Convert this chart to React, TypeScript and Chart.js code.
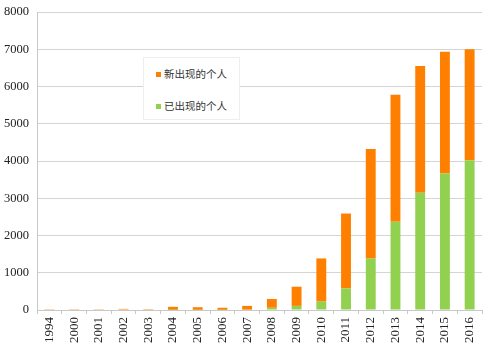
import React, { useEffect, useRef } from "react";
import { Chart, registerables } from "chart.js";

Chart.register(...registerables);

const categories = ["1994", "2000", "2001", "2002", "2003", "2004", "2005", "2006", "2007", "2008", "2009", "2010", "2011", "2012", "2013", "2014", "2015", "2016"];
const existingIndividuals = [0, 0, 0, 0, 0, 5, 5, 5, 10, 60, 110, 225, 580, 1385, 2370, 3145, 3665, 4020];
const newIndividuals = [5, 5, 5, 30, 25, 80, 70, 55, 100, 235, 515, 1160, 2010, 2935, 3410, 3405, 3265, 2980];
const seriesNames = ["新出现的个人", "已出现的个人"];
const yMax = 8000;
const yStep = 1000;

const ORANGE = "#FF8000";
const GREEN = "#92D050";
const SERIF = "'Liberation Serif', 'DejaVu Serif', serif";

export default function App() {
  const canvasRef = useRef<HTMLCanvasElement | null>(null);

  useEffect(() => {
    document.body.style.margin = "0";
    const canvas = canvasRef.current;
    if (!canvas) return;
    const chart = new Chart(canvas, {
      type: "bar",
      data: {
        labels: categories,
        datasets: [
          {
            label: seriesNames[1],
            data: existingIndividuals,
            backgroundColor: GREEN,
            borderWidth: 0,
            barPercentage: 0.4,
            categoryPercentage: 1,
          },
          {
            label: seriesNames[0],
            data: newIndividuals,
            backgroundColor: ORANGE,
            borderWidth: 0,
            barPercentage: 0.4,
            categoryPercentage: 1,
          },
        ],
      },
      options: {
        animation: false,
        responsive: false,
        maintainAspectRatio: false,
        layout: { padding: { top: 12, right: 17, left: 0, bottom: 0 } },
        plugins: {
          legend: { display: false },
          tooltip: { enabled: false },
        },
        scales: {
          x: {
            stacked: true,
            grid: {
              display: true,
              drawOnChartArea: false,
              offset: true,
              tickLength: 4,
              color: "#c8c8c8",
            },
            border: { display: true, color: "#c8c8c8" },
            ticks: {
              minRotation: 90,
              maxRotation: 90,
              autoSkip: false,
              padding: 3,
              color: "#222222",
              font: { family: SERIF, size: 13 },
            },
            afterFit: (scale: any) => {
              scale.height = 45;
              scale.paddingLeft = 0;
              scale.paddingRight = 0;
            },
          },
          y: {
            stacked: true,
            min: 0,
            max: yMax,
            ticks: {
              stepSize: yStep,
              padding: 8,
              color: "#222222",
              font: { family: SERIF, size: 12.5 },
              callback: (v: any) => String(v),
            },
            grid: {
              color: "#d4d4d4",
              drawTicks: false,
            },
            border: { display: true, color: "#c8c8c8" },
            afterFit: (scale: any) => {
              scale.width = 37;
              scale.paddingTop = 0;
              scale.paddingBottom = 0;
            },
          },
        },
      },
    });
    return () => chart.destroy();
  }, []);

  const legendItem = (color: string, text: string) => (
    <div style={{ display: "flex", alignItems: "center", height: 16 }}>
      <span style={{ display: "inline-block", width: 5, height: 5, background: color, marginRight: 3 }} />
      <span style={{ fontFamily: "'Noto Sans CJK SC'", fontSize: 10.5, color: "#333", lineHeight: "16px" }}>{text}</span>
    </div>
  );

  return (
    <div style={{ position: "fixed", left: 0, top: 0, width: 499, height: 355, background: "#fff" }}>
      <canvas ref={canvasRef} width={499} height={355} style={{ width: 499, height: 355, display: "block" }} />
      <div
        style={{
          position: "absolute",
          left: 143,
          top: 57,
          width: 97,
          height: 63,
          background: "#fff",
          border: "1px solid #eeeeee",
          boxSizing: "border-box",
          paddingLeft: 12,
          paddingTop: 8,
        }}
      >
        {legendItem(ORANGE, seriesNames[0])}
        <div style={{ height: 16 }} />
        {legendItem(GREEN, seriesNames[1])}
      </div>
    </div>
  );
}
